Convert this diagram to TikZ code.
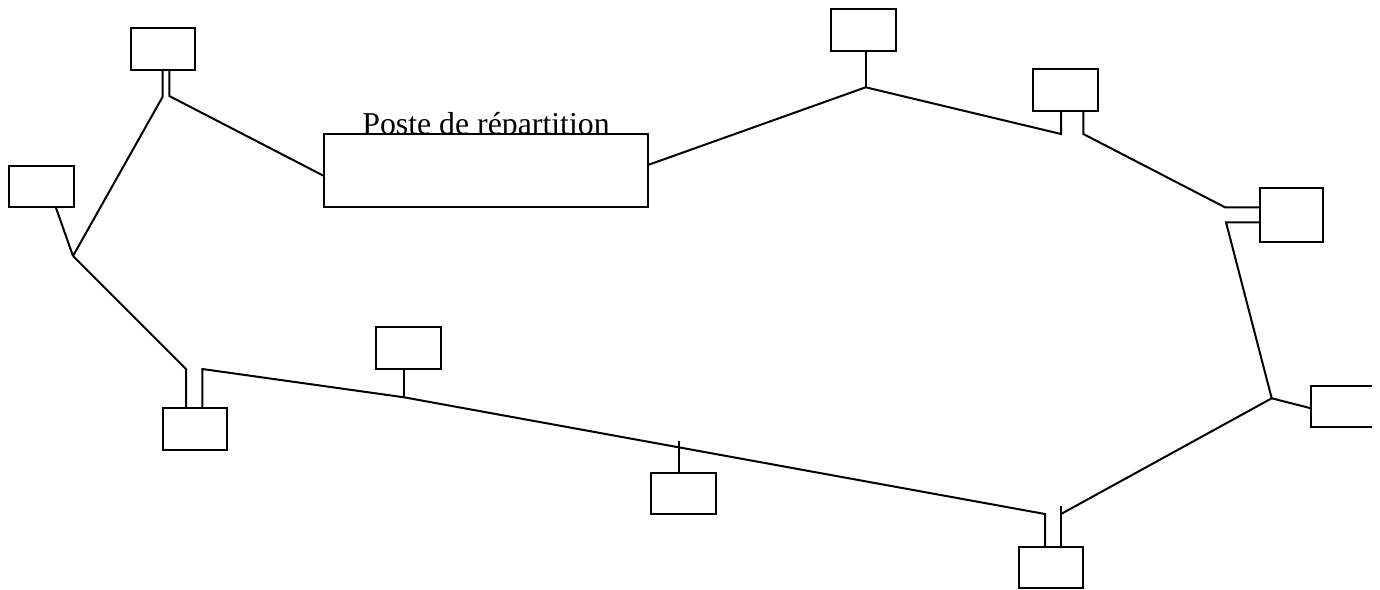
\documentclass[tikz,border=0pt]{standalone}
\usepackage{fontspec}
\setmainfont{Liberation Serif}
\begin{document}
\begin{tikzpicture}[x=1pt,y=-1pt,
  box/.style={draw,fill=white,line width=2pt,inner sep=0pt,outer sep=0pt,minimum width=64pt,minimum height=42pt},
  wire/.style={line width=2pt,line join=miter}]
\useasboundingbox (0,0) rectangle (1380,589);
% label
\node[anchor=base,inner sep=0pt,font=\fontsize{31.8}{36}\selectfont] (lbl) at (486,134) {Poste de répartition};
% boxes
\node[box,minimum width=324pt,minimum height=73pt] (P) at (486,170.5) {};
\node[box] (A) at (163,49) {};
\node[box,minimum width=65pt,minimum height=41pt] (B) at (41.5,186.5) {};
\node[box] (C) at (195,429) {};
\node[box,minimum width=65pt] (D) at (408.5,348) {};
\node[box,minimum width=65pt,minimum height=41pt] (E) at (683.5,493.5) {};
\node[box,minimum height=41pt] (F) at (1051,567.5) {};
\node[box,minimum width=63pt,minimum height=54pt] (H) at (1291.5,215) {};
\node[box,minimum width=65pt] (I) at (1065.5,90) {};
\node[box,minimum width=65pt] (J) at (863.5,30) {};
\begin{scope}
  \clip (0,-10) rectangle (1372,600);
  \node[box,minimum width=122pt,minimum height=41pt] (G) at (1372,406.5) {};
\end{scope}
% junctions
\coordinate (j1) at (73,256);
\coordinate (j2) at (404,397.3);
\coordinate (j3) at (1271.7,398.3);
\coordinate (j4) at (865.7,87.3);
\coordinate (eTop) at (679.3,440.7);
% wires
\draw[wire] ([xshift=-0.3pt]A.south) -- (162.7,96.7) -- (j1);
\draw[wire] ([xshift=6.3pt]A.south) -- (169.3,96) -- ([yshift=-5.5pt]P.west);
\draw[wire] ([xshift=14.2pt]B.south) -- (j1);
\draw[wire] (j1) -- (186,369) -- ([xshift=-9pt]C.north);
\draw[wire] ([xshift=7.3pt]C.north) -- (202.3,369) -- (j2) -- (1045,514) -- ([xshift=-6pt]F.north);
\draw[wire] ([xshift=-4.5pt]D.south) -- (j2);
\draw[wire] ([xshift=-4.2pt]E.north) -- (eTop);
\draw[wire] ([xshift=10pt]F.north) -- (1061,506);
\draw[wire] (1061,514) -- (j3);
\draw[wire] (j3) -- ([yshift=-1.8pt]G.west);
\draw[wire] (j3) -- (1226,222.3) -- ([yshift=-7.3pt]H.west);
\draw[wire] ([yshift=7.7pt]H.west) -- (1225,207.3) -- (1083.3,134) -- ([xshift=17.8pt]I.south);
\draw[wire] ([xshift=-4.5pt]I.south) -- (1061,134) -- (j4) -- ([yshift=5.5pt]P.east);
\draw[wire] ([xshift=2.2pt]J.south) -- (j4);
\end{tikzpicture}
\end{document}
